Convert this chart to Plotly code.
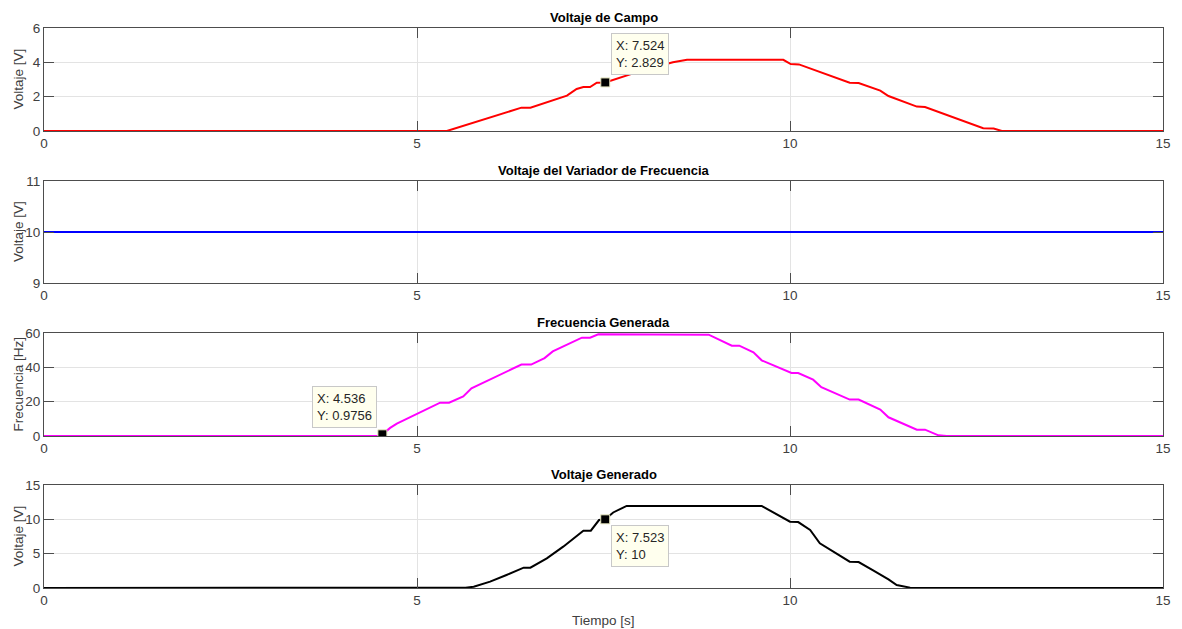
import plotly.graph_objects as go
from plotly.subplots import make_subplots

# ---------------- data ----------------
t_campo = [0, 5.40, 6.40, 6.52, 7.01, 7.14, 7.23, 7.32, 7.41, 7.524, 8.0, 8.43, 8.62,
           9.91, 10.01, 10.12, 10.80, 10.92, 11.21, 11.32, 11.70, 11.81, 12.59, 12.73, 12.84, 15]
v_campo = [0, 0, 1.36, 1.36, 2.06, 2.45, 2.56, 2.56, 2.81, 2.829, 3.50, 4.00, 4.15,
           4.15, 3.90, 3.88, 2.81, 2.79, 2.35, 2.04, 1.42, 1.40, 0.16, 0.14, 0, 0]

t_var = [0, 15]
v_var = [10, 10]

t_freq = [0, 4.50, 4.536, 4.64, 4.73, 5.31, 5.43, 5.62, 5.73, 6.40, 6.53, 6.71, 6.82, 7.21, 7.32, 7.43,
          8.91, 9.22, 9.32, 9.51, 9.62, 10.02, 10.11, 10.31, 10.42, 10.80, 10.92, 11.21, 11.32,
          11.70, 11.81, 11.99, 12.10, 15]
v_freq = [0, 0, 0.9756, 4.7, 7.2, 19.4, 19.4, 23.1, 27.8, 41.6, 41.6, 45.4, 49.3, 57.3, 57.3, 59.2,
          59.0, 52.6, 52.6, 48.7, 44.1, 36.7, 36.7, 32.8, 28.4, 21.2, 21.2, 15.4, 10.9,
          3.7, 3.7, 0.4, 0, 0]

t_gen = [0, 5.55, 5.65, 5.76, 5.98, 6.20, 6.43, 6.52, 6.74, 6.96, 7.23, 7.33, 7.44, 7.523, 7.63, 7.81,
         9.62, 10.00, 10.11, 10.27, 10.40, 10.80, 10.92, 11.12, 11.32, 11.43, 11.61, 11.70, 15]
v_gen = [0, 0, 0.05, 0.19, 0.92, 1.89, 2.96, 2.96, 4.32, 6.02, 8.35, 8.35, 9.9, 10.0, 11.0, 11.95,
         11.95, 9.66, 9.60, 8.45, 6.50, 3.83, 3.78, 2.52, 1.26, 0.44, 0.05, 0, 0]

tip_campo = (7.524, 2.829)
tip_freq = (4.536, 0.9756)
tip_gen = (7.523, 10)

titles = ["Voltaje de Campo", "Voltaje del Variador de Frecuencia", "Frecuencia Generada", "Voltaje Generado"]
ylabels = ["Voltaje [V]", "Voltaje [V]", "Frecuencia [Hz]", "Voltaje [V]"]
xlabel = "Tiempo [s]"
x_ticks = [0, 5, 10, 15]
y_ticks = [[0, 2, 4, 6], [9, 10, 11], [0, 20, 40, 60], [0, 5, 10, 15]]
y_ranges = [[0, 6], [9, 11], [0, 60], [0, 15]]

# ---------------- layout geometry ----------------
W, H = 1182, 629
xl, xr = 44, 1163
rows_px = [(28, 131), (181, 283), (333, 436), (485, 588)]

FONT = "Liberation Sans, Arial, Helvetica, sans-serif"
AX = "#4d4d4d"
TXT = "#404040"
GRID = "#e3e3e3"

fig = make_subplots(rows=4, cols=1)

fig.add_trace(go.Scatter(x=t_campo, y=v_campo, mode="lines", line=dict(color="#ff0000", width=2)), row=1, col=1)
fig.add_trace(go.Scatter(x=t_var, y=v_var, mode="lines", line=dict(color="#0000ff", width=2)), row=2, col=1)
fig.add_trace(go.Scatter(x=t_freq, y=v_freq, mode="lines", line=dict(color="#ff00ff", width=2)), row=3, col=1)
fig.add_trace(go.Scatter(x=t_gen, y=v_gen, mode="lines", line=dict(color="#000000", width=2)), row=4, col=1)

mk = dict(symbol="square", size=9, color="#000000", line=dict(color="#e8e8c0", width=1))
fig.add_trace(go.Scatter(x=[tip_campo[0]], y=[tip_campo[1]], mode="markers", marker=mk), row=1, col=1)
fig.add_trace(go.Scatter(x=[tip_freq[0]], y=[tip_freq[1]], mode="markers", marker=mk), row=3, col=1)
fig.add_trace(go.Scatter(x=[tip_gen[0]], y=[tip_gen[1]], mode="markers", marker=mk), row=4, col=1)

annotations = []
for i, (top, bot) in enumerate(rows_px):
    r = i + 1
    dom = [1 - bot / H, 1 - top / H]
    xa = "xaxis" if r == 1 else f"xaxis{r}"
    ya = "yaxis" if r == 1 else f"yaxis{r}"
    fig.layout[xa].update(
        domain=[xl / W, xr / W], range=[0, 15], tickvals=x_ticks, ticktext=[str(v) for v in x_ticks],
        showgrid=True, gridcolor=GRID, gridwidth=1, zeroline=False,
        showline=True, linecolor=AX, linewidth=1, mirror="ticks",
        ticks="inside", ticklen=10, tickcolor=AX, tickwidth=1,
        tickfont=dict(family=FONT, size=13.5, color=TXT),
    )
    fig.layout[ya].update(
        domain=dom, range=y_ranges[i], tickvals=y_ticks[i],
        showgrid=True, gridcolor=GRID, gridwidth=1, zeroline=False,
        showline=True, linecolor=AX, linewidth=1, mirror="ticks",
        ticks="inside", ticklen=10, tickcolor=AX, tickwidth=1,
        tickfont=dict(family=FONT, size=13.5, color=TXT),
    )
    # title
    annotations.append(dict(
        text=f"<b>{titles[i]}</b>", x=(xl + xr) / 2 / W, y=1 - (top - 1) / H,
        xref="paper", yref="paper", xanchor="center", yanchor="bottom",
        showarrow=False, font=dict(family=FONT, size=13, color="#000000")))
    # y label
    annotations.append(dict(
        text=ylabels[i], x=18 / W, y=1 - (top + bot) / 2 / H,
        xref="paper", yref="paper", xanchor="center", yanchor="middle",
        textangle=-90, showarrow=False, font=dict(family=FONT, size=13.5, color=TXT)))

annotations.append(dict(
    text=xlabel, x=(xl + xr) / 2 / W, y=1 - 620 / H, xref="paper", yref="paper",
    xanchor="center", yanchor="middle", showarrow=False,
    font=dict(family=FONT, size=13.5, color=TXT)))

tipstyle = dict(showarrow=False, align="left", bgcolor="#ffffee", bordercolor="#c8c8c8",
                borderwidth=1, borderpad=4, font=dict(family=FONT, size=13, color="#262626"))
annotations.append(dict(
    text=f"X: {tip_campo[0]}<br>Y: {tip_campo[1]}", x=tip_campo[0], y=tip_campo[1],
    xref="x", yref="y", xanchor="left", yanchor="bottom", xshift=6, yshift=7, **tipstyle))
annotations.append(dict(
    text=f"X: {tip_freq[0]}<br>Y: {tip_freq[1]}", x=tip_freq[0], y=tip_freq[1],
    xref="x3", yref="y3", xanchor="right", yanchor="bottom", xshift=-5, yshift=6, **tipstyle))
annotations.append(dict(
    text=f"X: {tip_gen[0]}<br>Y: {tip_gen[1]}", x=tip_gen[0], y=tip_gen[1],
    xref="x4", yref="y4", xanchor="left", yanchor="top", xshift=6, yshift=-6, **tipstyle))

fig.update_layout(
    width=W, height=H, margin=dict(l=0, r=0, t=0, b=0, autoexpand=False),
    paper_bgcolor="#ffffff", plot_bgcolor="#ffffff", showlegend=False,
    annotations=annotations, font=dict(family=FONT, size=13, color=TXT),
)

fig.write_html(
    "out.html",
    config={"displayModeBar": False},
    post_script="document.body.style.margin='0px';document.body.style.overflow='hidden';",
)
